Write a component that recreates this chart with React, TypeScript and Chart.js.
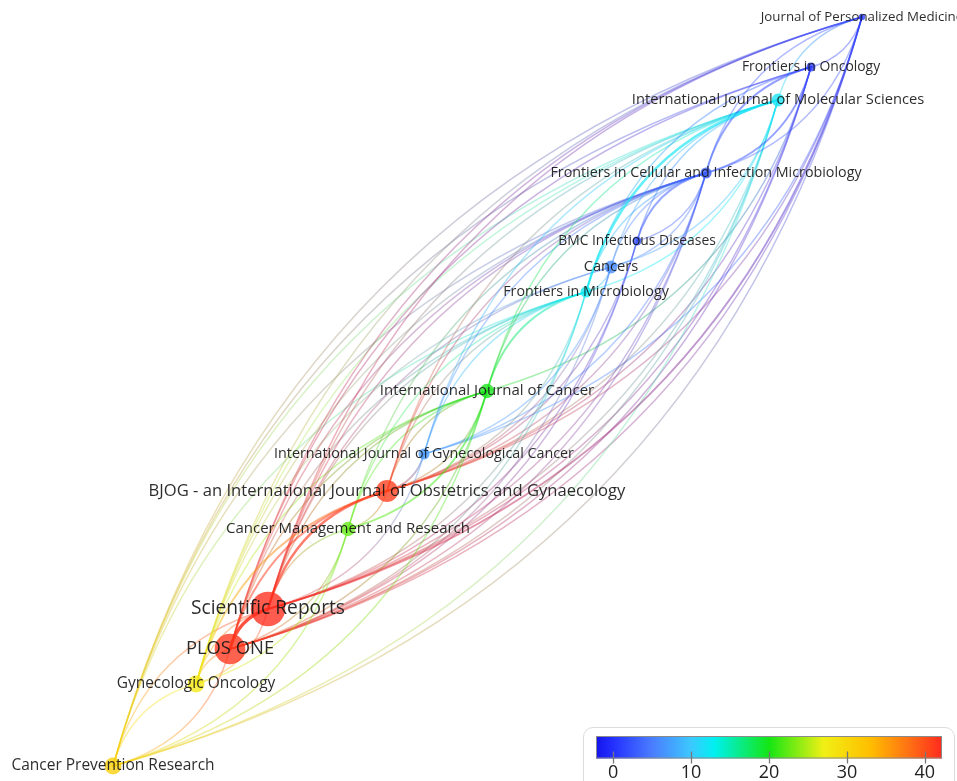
import React, { useEffect, useRef } from "react";
import { Chart, registerables } from "chart.js";

Chart.register(...registerables);

// ---- Data ----
const JOURNALS = [
  "Journal of Personalized Medicine",
  "Frontiers in Oncology",
  "International Journal of Molecular Sciences",
  "Frontiers in Cellular and Infection Microbiology",
  "BMC Infectious Diseases",
  "Cancers",
  "Frontiers in Microbiology",
  "International Journal of Cancer",
  "International Journal of Gynecological Cancer",
  "BJOG - an International Journal of Obstetrics and Gynaecology",
  "Cancer Management and Research",
  "Scientific Reports",
  "PLOS ONE",
  "Gynecologic Oncology",
  "Cancer Prevention Research",
];
// layout coordinates (map units)
const POS_X = [862, 811, 778, 706, 637, 611, 586, 487, 424, 387, 348, 268, 230, 196, 113];
const POS_Y = [17, 67, 100, 173, 241, 267, 292, 391, 454, 491, 529, 609, 649, 684, 766];
// overlay score (colour)
const SCORE = [1, 0.5, 12, 3, 2, 6, 12.5, 20, 7, 41, 22.5, 42, 41.5, 28, 31];
// documents (node weight)
const DOCS = [1, 2, 4, 3, 2, 4, 3, 5, 3, 12, 5, 29, 23, 7, 7];
// links: [source, target, strength]
const LINKS: [number, number, number][] = [
  [12, 11, 5], [11, 9, 3], [12, 9, 2], [13, 12, 1], [11, 13, 1], [14, 13, 1],
  [13, 11, 1], [14, 11, 1], [12, 14, 1], [10, 12, 1], [11, 10, 1], [9, 10, 1], [13, 9, 2],
  [14, 0, 1], [14, 1, 1], [14, 2, 1], [14, 3, 1], [14, 6, 1],
  [13, 0, 1], [13, 2, 1], [13, 3, 1], [13, 5, 1], [13, 7, 1],
  [12, 0, 1], [12, 1, 1], [12, 3, 1], [12, 6, 1], [12, 7, 1],
  [11, 0, 1], [11, 2, 1], [11, 3, 1], [11, 5, 1], [11, 6, 1], [11, 7, 1],
  [10, 3, 1], [10, 6, 1], [10, 7, 1],
  [9, 2, 1], [9, 3, 1], [9, 6, 1], [9, 7, 1],
  [8, 6, 1], [8, 3, 1], [8, 2, 1],
  [7, 6, 2], [7, 2, 1], [7, 3, 1],
  [6, 2, 3], [6, 3, 1], [5, 3, 1], [4, 3, 2], [3, 1, 2], [3, 0, 1], [2, 0, 1], [5, 2, 1], [4, 2, 1], [6, 1, 1],
  [0, 14, 1], [0, 12, 1], [0, 11, 2], [0, 9, 1], [0, 8, 1],
  [1, 11, 1], [1, 12, 1], [1, 9, 1], [1, 7, 1],
  [2, 14, 1], [2, 11, 1], [2, 12, 1], [2, 9, 1], [2, 6, 1],
  [3, 11, 1], [3, 12, 1], [3, 9, 1], [3, 8, 1],
  [4, 11, 1], [4, 9, 1], [4, 12, 1],
  [5, 12, 1], [5, 9, 1], [5, 8, 1],
  [6, 11, 1], [6, 12, 1], [6, 9, 1],
  [7, 9, 1], [7, 10, 2], [7, 12, 1], [7, 14, 1],
  [8, 9, 2], [8, 11, 1], [10, 13, 1], [10, 14, 1],
  [3, 4, 1], [3, 5, 1], [5, 6, 1], [1, 3, 2], [0, 1, 1], [2, 5, 1], [0, 3, 1],
];
// colour scale
const SCALE_MIN = -2.2;
const SCALE_MAX = 42.2;
const SCALE_TICKS = [0, 10, 20, 30, 40];
const STOP_VALUES = [-2.2, 0, 5, 10, 13, 20, 27, 33, 38, 42.2];
const STOP_COLORS = ["#1414eb", "#2430ff", "#4a7dff", "#3cc8ff", "#00f0f0", "#14e614", "#f0f014", "#ffbe00", "#ff7014", "#ff2a1e"];

// ---- helpers ----
const FONT = '"Open Sans", "Noto Sans", sans-serif';
const CURVE = 0.28;

function hexToRgb(h: string): number[] {
  const n = parseInt(h.slice(1), 16);
  return [(n >> 16) & 255, (n >> 8) & 255, n & 255];
}
function colorAt(v: number): number[] {
  if (v <= STOP_VALUES[0]) return hexToRgb(STOP_COLORS[0]);
  for (let i = 1; i < STOP_VALUES.length; i++) {
    if (v <= STOP_VALUES[i]) {
      const f = (v - STOP_VALUES[i - 1]) / (STOP_VALUES[i] - STOP_VALUES[i - 1]);
      const a = hexToRgb(STOP_COLORS[i - 1]);
      const b = hexToRgb(STOP_COLORS[i]);
      return a.map((c, k) => Math.round(c + (b[k] - c) * f));
    }
  }
  return hexToRgb(STOP_COLORS[STOP_COLORS.length - 1]);
}
const rgba = (c: number[], a: number) => `rgba(${c[0]},${c[1]},${c[2]},${a})`;
const nodeRadius = (d: number) => 3.2 * Math.sqrt(d);
const labelSize = (d: number) => 12 + 1.33 * Math.sqrt(d);

const linksPlugin = {
  id: "links",
  beforeDatasetsDraw(chart: any) {
    const { ctx } = chart;
    const xs = chart.scales.x;
    const ys = chart.scales.y;
    ctx.save();
    ctx.lineCap = "round";
    const sorted = [...LINKS].sort((p, q) => p[2] - q[2]);
    sorted.forEach(([a, b, w]) => {
      const x1 = xs.getPixelForValue(POS_X[a]);
      const y1 = ys.getPixelForValue(POS_Y[a]);
      const x2 = xs.getPixelForValue(POS_X[b]);
      const y2 = ys.getPixelForValue(POS_Y[b]);
      const dx = x2 - x1;
      const dy = y2 - y1;
      const cx = (x1 + x2) / 2 + CURVE * dy;
      const cy = (y1 + y2) / 2 - CURVE * dx;
      const alpha = Math.min(0.85, 0.25 + 0.13 * w);
      const g = ctx.createLinearGradient(x1, y1, x2, y2);
      g.addColorStop(0, rgba(colorAt(SCORE[a]), alpha));
      g.addColorStop(1, rgba(colorAt(SCORE[b]), alpha));
      ctx.strokeStyle = g;
      ctx.lineWidth = 0.9 + 0.5 * w;
      ctx.beginPath();
      ctx.moveTo(x1, y1);
      ctx.quadraticCurveTo(cx, cy, x2, y2);
      ctx.stroke();
    });
    ctx.restore();
  },
};

const labelsPlugin = {
  id: "labels",
  afterDatasetsDraw(chart: any) {
    const { ctx } = chart;
    const xs = chart.scales.x;
    const ys = chart.scales.y;
    ctx.save();
    ctx.textAlign = "center";
    ctx.textBaseline = "middle";
    ctx.fillStyle = "rgba(20,20,20,0.9)";
    JOURNALS.forEach((name, i) => {
      ctx.font = `${labelSize(DOCS[i]).toFixed(1)}px ${FONT}`;
      ctx.fillText(name, xs.getPixelForValue(POS_X[i]), ys.getPixelForValue(POS_Y[i]));
    });
    ctx.restore();
  },
};

const barPlugin = {
  id: "colorbar",
  beforeDatasetsDraw(chart: any) {
    const { ctx, chartArea } = chart;
    const xs = chart.scales.x;
    ctx.save();
    const g = ctx.createLinearGradient(chartArea.left, 0, chartArea.right, 0);
    STOP_VALUES.forEach((v, i) => {
      const p = (xs.getPixelForValue(v) - chartArea.left) / (chartArea.right - chartArea.left);
      g.addColorStop(Math.max(0, Math.min(1, p)), STOP_COLORS[i]);
    });
    ctx.fillStyle = g;
    ctx.fillRect(chartArea.left, chartArea.top, chartArea.right - chartArea.left, chartArea.bottom - chartArea.top);
    ctx.strokeStyle = "#8a8a8a";
    ctx.lineWidth = 1;
    ctx.strokeRect(chartArea.left + 0.5, chartArea.top + 0.5, chartArea.right - chartArea.left - 1, chartArea.bottom - chartArea.top - 1);
    ctx.strokeStyle = "#777";
    ctx.lineWidth = 1.3;
    SCALE_TICKS.forEach((t) => {
      const px = Math.round(xs.getPixelForValue(t)) + 0.5;
      ctx.beginPath();
      ctx.moveTo(px, chartArea.bottom - 7);
      ctx.lineTo(px, chartArea.bottom + 5);
      ctx.stroke();
    });
    ctx.restore();
  },
};

export default function App() {
  const mainRef = useRef<HTMLCanvasElement>(null);
  const barRef = useRef<HTMLCanvasElement>(null);

  useEffect(() => {
    document.body.style.margin = "0";
    document.body.style.overflow = "hidden";
    const main = new Chart(mainRef.current as HTMLCanvasElement, {
      type: "scatter",
      data: {
        datasets: [
          {
            data: POS_X.map((x, i) => ({ x, y: POS_Y[i] })),
            pointRadius: DOCS.map(nodeRadius),
            pointHoverRadius: DOCS.map(nodeRadius),
            backgroundColor: SCORE.map((v) => rgba(colorAt(v), 0.78)),
            borderWidth: 0,
            clip: false,
          },
        ],
      },
      options: {
        animation: false,
        responsive: false,
        events: [],
        layout: { padding: 0, autoPadding: false },
        plugins: { legend: { display: false }, tooltip: { enabled: false } },
        scales: {
          x: { type: "linear", display: false, min: 0, max: 957 },
          y: { type: "linear", display: false, min: 0, max: 781, reverse: true },
        },
      },
      plugins: [linksPlugin, labelsPlugin],
    } as any);

    const bar = new Chart(barRef.current as HTMLCanvasElement, {
      type: "scatter",
      data: { datasets: [{ data: [] }] },
      options: {
        animation: false,
        responsive: false,
        events: [],
        layout: { padding: { left: 13, right: 13, top: 9, bottom: 0 }, autoPadding: false },
        plugins: { legend: { display: false }, tooltip: { enabled: false } },
        scales: {
          x: {
            type: "linear",
            min: SCALE_MIN,
            max: SCALE_MAX,
            position: "bottom",
            afterBuildTicks: (axis: any) => {
              axis.ticks = SCALE_TICKS.map((v) => ({ value: v }));
            },
            ticks: { color: "#222", font: { size: 18, family: FONT }, padding: 4, maxRotation: 0, autoSkip: false },
            grid: { display: false, drawTicks: false },
            border: { display: false },
          },
          y: { display: false, min: 0, max: 1 },
        },
      },
      plugins: [barPlugin],
    } as any);

    document.fonts?.ready.then(() => {
      main.draw();
      bar.draw();
    });

    return () => {
      main.destroy();
      bar.destroy();
    };
  }, []);

  return (
    <div style={{ position: "relative", width: 957, height: 781, overflow: "hidden", background: "#fff" }}>
      <canvas ref={mainRef} width={957} height={781} style={{ position: "absolute", left: 0, top: 0 }} />
      <div
        style={{
          position: "absolute",
          left: 583,
          top: 727,
          width: 370,
          height: 70,
          border: "1px solid #dcdcdc",
          borderRadius: 10,
          background: "#fff",
        }}
      />
      <canvas ref={barRef} width={372} height={54} style={{ position: "absolute", left: 583, top: 727 }} />
    </div>
  );
}
